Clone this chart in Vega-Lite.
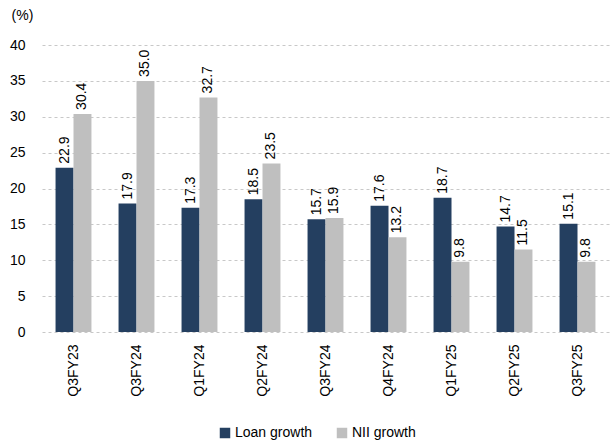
{
  "$schema": "https://vega.github.io/schema/vega-lite/v6.json",
  "autosize": "none",
  "width": 567,
  "height": 287,
  "padding": {"left": 42, "top": 45, "right": 1, "bottom": 113},
  "background": "white",
  "config": {
    "font": "Liberation Sans",
    "view": {"stroke": null}
  },
  "data": {
    "values": [
      {"q": "Q3FY23", "s": "Loan growth", "v": 22.9},
      {"q": "Q3FY23", "s": "NII growth", "v": 30.4},
      {"q": "Q3FY24", "s": "Loan growth", "v": 17.9},
      {"q": "Q3FY24", "s": "NII growth", "v": 35.0},
      {"q": "Q1FY24", "s": "Loan growth", "v": 17.3},
      {"q": "Q1FY24", "s": "NII growth", "v": 32.7},
      {"q": "Q2FY24", "s": "Loan growth", "v": 18.5},
      {"q": "Q2FY24", "s": "NII growth", "v": 23.5},
      {"q": "Q3FY24 ", "s": "Loan growth", "v": 15.7},
      {"q": "Q3FY24 ", "s": "NII growth", "v": 15.9},
      {"q": "Q4FY24", "s": "Loan growth", "v": 17.6},
      {"q": "Q4FY24", "s": "NII growth", "v": 13.2},
      {"q": "Q1FY25", "s": "Loan growth", "v": 18.7},
      {"q": "Q1FY25", "s": "NII growth", "v": 9.8},
      {"q": "Q2FY25", "s": "Loan growth", "v": 14.7},
      {"q": "Q2FY25", "s": "NII growth", "v": 11.5},
      {"q": "Q3FY25", "s": "Loan growth", "v": 15.1},
      {"q": "Q3FY25", "s": "NII growth", "v": 9.8}
    ]
  },
  "encoding": {
    "x": {
      "field": "q",
      "type": "nominal",
      "sort": null,
      "scale": {"paddingInner": 0.43, "paddingOuter": 0.215},
      "axis": {
        "title": null,
        "domain": false,
        "ticks": false,
        "labelAngle": 270,
        "labelAlign": "right",
        "labelBaseline": "middle",
        "labelPadding": 12,
        "labelFontSize": 14,
        "labelColor": "#000000",
        "labelExpr": "trim(datum.label)"
      }
    },
    "xOffset": {"field": "s", "type": "nominal", "scale": {"paddingInner": 0, "paddingOuter": 0}},
    "y": {
      "field": "v",
      "type": "quantitative",
      "scale": {"domain": [0, 40], "nice": false},
      "axis": {
        "title": "(%)",
        "titleAngle": 0,
        "titleX": -20,
        "titleY": -30,
        "titleAlign": "center",
        "titleBaseline": "middle",
        "titleFontWeight": "normal",
        "titleFontSize": 14,
        "titleColor": "#000000",
        "values": [0, 5, 10, 15, 20, 25, 30, 35, 40],
        "domain": false,
        "ticks": false,
        "labelPadding": 17,
        "labelFontSize": 14,
        "labelColor": "#000000",
        "gridColor": "#c8c8c8",
        "gridDash": [3, 3],
        "gridWidth": 1
      }
    }
  },
  "layer": [
    {
      "mark": {"type": "bar"},
      "encoding": {
        "color": {
          "field": "s",
          "type": "nominal",
          "scale": {"domain": ["Loan growth", "NII growth"], "range": ["#243F60", "#BFBFBF"]},
          "legend": {
            "title": null,
            "orient": "none",
            "direction": "horizontal",
            "legendX": 176,
            "legendY": 381,
            "symbolType": "square",
            "symbolSize": 110,
            "symbolStrokeWidth": 0,
            "labelFontSize": 14,
            "labelColor": "#000000",
            "labelOffset": 3,
            "columnPadding": 22
          }
        }
      }
    },
    {
      "mark": {"type": "text", "angle": 270, "align": "left", "baseline": "middle", "dx": 4, "fontSize": 14, "color": "#000000"},
      "encoding": {
        "text": {"field": "v", "type": "quantitative", "format": ".1f"}
      }
    }
  ]
}
